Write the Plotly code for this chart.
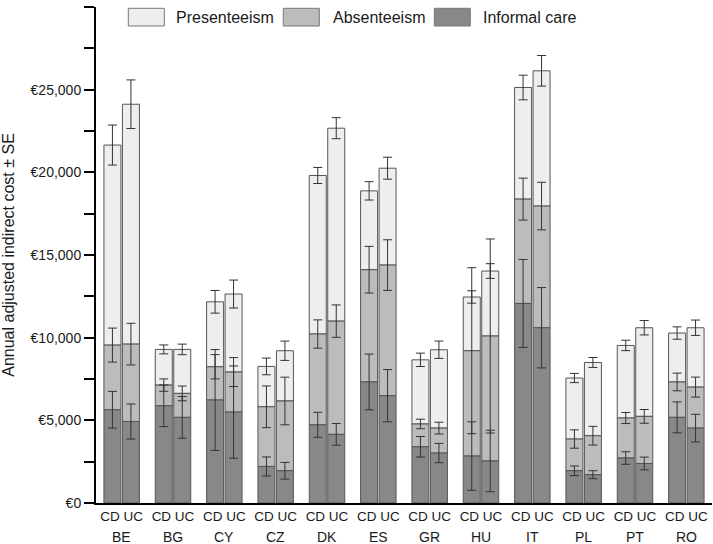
import numpy as np
import plotly.graph_objects as go

countries = ["BE", "BG", "CY", "CZ", "DK", "ES", "GR", "HU", "IT", "PL", "PT", "RO"]
groups = ["CD", "UC"]

# Segment costs (EUR)
informal_cd = [5640, 5880, 6230, 2210, 4730, 7320, 3400, 2840, 12070, 1950, 2720, 5180]
informal_uc = [4930, 5180, 5500, 1950, 4150, 6490, 3020, 2540, 10600, 1710, 2390, 4530]
absent_cd = [3910, 1250, 2010, 3610, 5490, 6790, 1380, 6370, 6310, 1920, 2420, 2140]
absent_uc = [4680, 1450, 2420, 4220, 6850, 7900, 1510, 7560, 7360, 2360, 2850, 2480]
present_cd = [12100, 2160, 3930, 2440, 9590, 4770, 3880, 3250, 6750, 3690, 4390, 2960]
present_uc = [14510, 2660, 4720, 3040, 11670, 5860, 4740, 3930, 8180, 4430, 5360, 3590]

# Standard errors
informal_cd_se = [1110, 1260, 3050, 575, 755, 1685, 620, 2070, 2660, 290, 380, 935]
informal_uc_se = [1060, 1260, 2790, 505, 655, 1580, 585, 1860, 2430, 240, 385, 835]
absent_cd_se = [1030, 375, 735, 1260, 855, 1410, 290, 5020, 1270, 555, 335, 535]
absent_uc_se = [1260, 445, 875, 1440, 980, 1530, 355, 5870, 1440, 565, 415, 605]
present_cd_se = [1210, 270, 685, 505, 485, 555, 405, 375, 745, 280, 315, 375]
present_uc_se = [1470, 320, 845, 585, 635, 665, 525, 445, 925, 300, 435, 465]

series_names = ["Presenteeism", "Absenteeism", "Informal care"]
fill_colors = {"Presenteeism": "#eeeeee", "Absenteeism": "#bcbcbc", "Informal care": "#888888"}
y_ticks = [0, 5000, 10000, 15000, 20000, 25000, 30000]
y_tick_labels = ["€0", "€5,000", "€10,000", "€15,000", "€20,000", "€25,000", "€30,000"]

data = {
    "CD": {"Informal care": (informal_cd, informal_cd_se),
           "Absenteeism": (absent_cd, absent_cd_se),
           "Presenteeism": (present_cd, present_cd_se)},
    "UC": {"Informal care": (informal_uc, informal_uc_se),
           "Absenteeism": (absent_uc, absent_uc_se),
           "Presenteeism": (present_uc, present_uc_se)},
}

FONT = "Liberation Sans, Arial, sans-serif"
TXT = "#1a1a1a"

fig = go.Figure()
stack_order = ["Informal care", "Absenteeism", "Presenteeism"]
# draw top segments first so lower segments' error bars stay visible
for name in series_names:
    for g in groups:
        idx = stack_order.index(name)
        base = np.zeros(len(countries))
        for below in stack_order[:idx]:
            base += np.array(data[g][below][0])
        vals, se = data[g][name]
        fig.add_trace(go.Bar(
            x=countries, y=vals, base=base, offsetgroup=g, name=name,
            showlegend=False,
            marker=dict(color=fill_colors[name], line=dict(color="#555555", width=1)),
            error_y=dict(type="data", array=se, color="#333333", thickness=1, width=4.5),
        ))

# country labels under the CD/UC tick labels
annotations = []
for c in countries:
    annotations.append(dict(x=c, xref="x", y=0, yref="paper", yanchor="middle",
                            yshift=-33.5, height=15, text=c, showarrow=False,
                            font=dict(family=FONT, size=14, color=TXT)))

# custom legend (wide boxes)
H = 496.0
W = 616.0
def px(x):
    return (x - 96) / W
def py(y):
    return (503 - y) / H

shapes = []
legend_items = [("Presenteeism", 128.3, 174.3), ("Absenteeism", 283.3, 330.7), ("Informal care", 434.3, 480.7)]
for name, bx, tx in legend_items:
    shapes.append(dict(type="rect", xref="paper", yref="paper",
                       x0=px(bx), x1=px(bx + 36), y0=py(26), y1=py(8.3),
                       fillcolor=fill_colors[name], line=dict(color="#777777", width=1)))
    annotations.append(dict(x=px(tx), xref="paper", y=py(17.2), yref="paper",
                            xanchor="left", yanchor="middle", text=name, showarrow=False,
                            font=dict(family=FONT, size=16, color=TXT)))

fig.update_layout(
    width=713, height=544,
    margin=dict(l=96, r=1, t=7, b=41),
    paper_bgcolor="white", plot_bgcolor="white",
    barmode="group", bargap=0.28, bargroupgap=0.08,
    font=dict(family=FONT, size=14, color=TXT),
    shapes=shapes, annotations=annotations,
    showlegend=False,
)
fig.update_xaxes(
    type="category", categoryorder="array", categoryarray=countries,
    tickvals=countries, ticktext=["CD UC"] * len(countries),
    tickfont=dict(family=FONT, size=13.5, color=TXT),
    showline=True, linecolor="black", linewidth=2, ticks="", showgrid=False,
    zeroline=False, fixedrange=True,
)
fig.update_yaxes(
    range=[0, 30000], tickvals=y_ticks, ticktext=y_tick_labels,
    tickfont=dict(family=FONT, size=14, color=TXT),
    showline=True, linecolor="black", linewidth=2,
    ticks="outside", ticklen=10, tickwidth=2, tickcolor="black",
    minor=dict(dtick=2500, tick0=0, ticks="outside", ticklen=10, tickwidth=2, tickcolor="black"),
    showgrid=False, zeroline=False, fixedrange=True,
    title=dict(text="Annual adjusted indirect cost ± SE", font=dict(family=FONT, size=16, color=TXT), standoff=12),
)

fig.write_html("out.html", config={"displayModeBar": False},
               post_script="document.body.style.margin='0';document.body.style.overflow='hidden';")
